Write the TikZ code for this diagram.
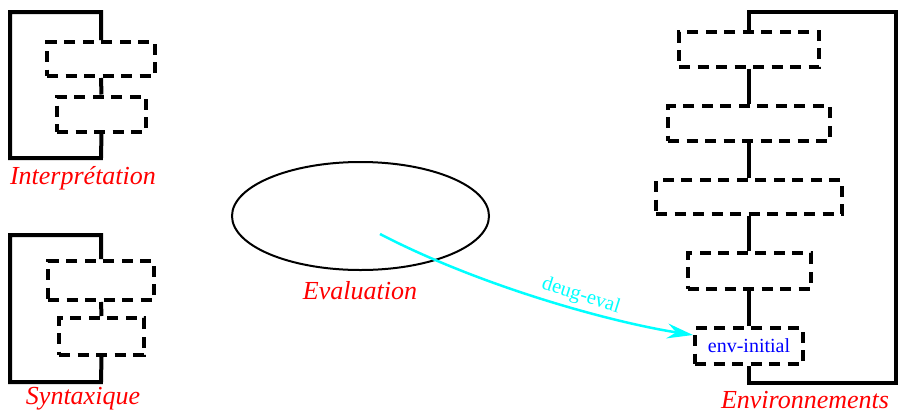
\documentclass[tikz,border=0pt]{standalone}
\usepackage{fontspec}
\setmainfont{Liberation Serif}
\usetikzlibrary{shapes.geometric,arrows.meta}
\definecolor{cyanline}{RGB}{0,255,255}
\definecolor{redlbl}{RGB}{255,0,0}
\definecolor{bluelbl}{RGB}{0,0,255}
\tikzset{
  dbox/.style={draw, line width=4pt, dash pattern=on 11pt off 7.5pt, inner sep=0pt, rectangle},
  brk/.style={line width=4pt, line join=miter},
  lbl/.style={text=redlbl, font=\fontsize{26}{30}\selectfont\itshape, inner sep=0pt},
}
\begin{document}
\begin{tikzpicture}[x=1pt,y=-1pt]
\useasboundingbox (0,0) rectangle (900,413);
% Interpretation
\node[dbox, minimum width=108, minimum height=34] (i1) at (101,59) {};
\node[dbox, minimum width=89, minimum height=35] (i2) at (101.5,114) {};
\draw[brk] (i1.south) -- (i2.north);
\coordinate (ia) at (101,12); \coordinate (ib) at (10,12);
\coordinate (ic) at (10,158); \coordinate (id) at (101,158);
\draw[brk] (i1.north) -- (ia) -- (ib) -- (ic) -- (id) -- (i2.south);
\node[lbl] (il) at (83,178) {Interprétation};
% Syntaxique
\node[dbox, minimum width=106, minimum height=39] (s1) at (101,280.5) {};
\node[dbox, minimum width=85, minimum height=37] (s2) at (101.5,336.5) {};
\draw[brk] (s1.south) -- (s2.north);
\coordinate (sa) at (101,235); \coordinate (sb) at (10,235);
\coordinate (sc) at (10,382); \coordinate (sd) at (101,382);
\draw[brk] (s1.north) -- (sa) -- (sb) -- (sc) -- (sd) -- (s2.south);
\node[lbl] (sl) at (83,399) {Syntaxique};
% Environnements
\node[dbox, minimum width=140, minimum height=35] (e1) at (749,49.5) {};
\node[dbox, minimum width=162, minimum height=35] (e2) at (749,123.5) {};
\node[dbox, minimum width=186, minimum height=34] (e3) at (749,197) {};
\node[dbox, minimum width=123, minimum height=36] (e4) at (749,271) {};
\node[dbox, minimum width=108, minimum height=36, text=bluelbl, font=\fontsize{20}{24}\selectfont] (e5) at (749,346) {env-initial};
\draw[brk] (e1.south) -- (e2.north);
\draw[brk] (e2.south) -- (e3.north);
\draw[brk] (e3.south) -- (e4.north);
\draw[brk] (e4.south) -- (e5.north);
\coordinate (ea) at (749,12); \coordinate (eb) at (896,12);
\coordinate (ec) at (896,383); \coordinate (ed) at (749,383);
\draw[brk] (e1.north) -- (ea) -- (eb) -- (ec) -- (ed) -- (e5.south);
\node[lbl] (el) at (805,400) {Environnements};
% Evaluation
\node[draw, ellipse, line width=2pt, minimum width=257, minimum height=108, inner sep=0pt] (ev) at (360.5,216) {};
\node[lbl] (evl) at (360,291) {Evaluation};
\coordinate (st) at (380,234);
\draw[cyanline, line width=2.5pt, -{Stealth[length=26pt,width=15pt,inset=9pt]}] (st) .. controls (480,286) and (610,322) .. ([yshift=11pt]e5.west);
\node[text=cyanline, font=\fontsize{20.5}{24}\selectfont, rotate=-17.5, inner sep=0pt] (de) at (581,296) {deug-eval};
\end{tikzpicture}
\end{document}
